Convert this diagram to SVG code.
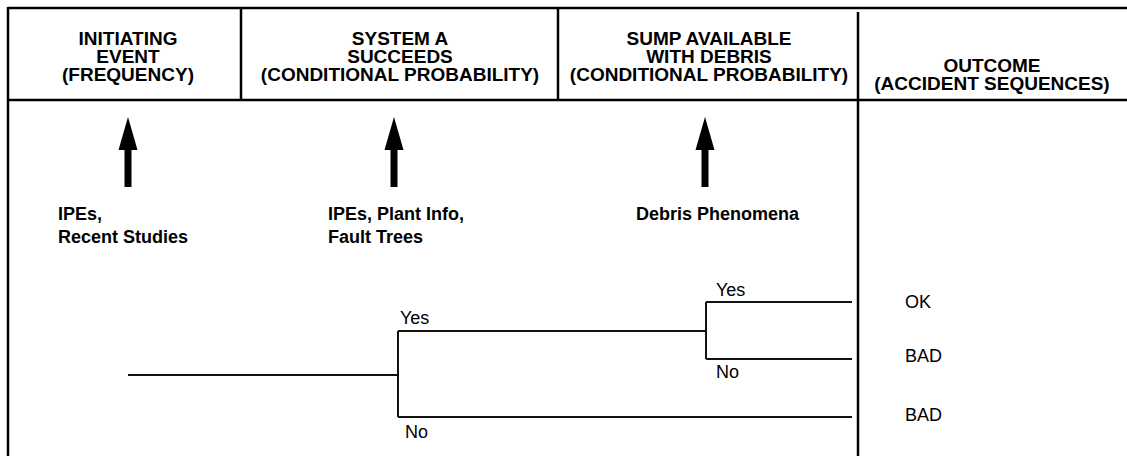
<svg xmlns="http://www.w3.org/2000/svg" width="1127" height="456" viewBox="0 0 1127 456">
  <defs>
    <style>
      .frame { stroke: #000; stroke-width: 2.5; fill: none; }
      .branch { stroke: #111; stroke-width: 2; fill: none; }
      .hdr { font-family: "Liberation Sans", Arial, sans-serif; font-size: 19px; font-weight: bold; text-anchor: middle; fill: #000; }
      .src { font-family: "Liberation Sans", Arial, sans-serif; font-size: 18px; font-weight: bold; fill: #000; }
      .lbl { font-family: "Liberation Sans", Arial, sans-serif; font-size: 18px; fill: #000; }
      .arrow { fill: #000; }
    </style>
  </defs>
  <rect width="1127" height="456" fill="#fff"/>

  <g id="frame">
    <line class="frame" x1="8" y1="8" x2="1127" y2="8"/>
    <line class="frame" x1="8" y1="7" x2="8" y2="456"/>
    <line class="frame" x1="8" y1="100" x2="1127" y2="100"/>
    <line class="frame" x1="241" y1="8" x2="241" y2="100"/>
    <line class="frame" x1="558" y1="8" x2="558" y2="100"/>
    <line class="frame" x1="858" y1="12" x2="858" y2="456"/>
  </g>

  <g id="header-initiating">
    <text class="hdr" x="128" y="45">INITIATING</text>
    <text class="hdr" x="128" y="63">EVENT</text>
    <text class="hdr" x="128" y="81">(FREQUENCY)</text>
  </g>
  <g id="header-systemA">
    <text class="hdr" x="400" y="45">SYSTEM A</text>
    <text class="hdr" x="400" y="63">SUCCEEDS</text>
    <text class="hdr" x="400" y="81">(CONDITIONAL PROBABILITY)</text>
  </g>
  <g id="header-sump">
    <text class="hdr" x="709" y="45">SUMP AVAILABLE</text>
    <text class="hdr" x="709" y="63">WITH DEBRIS</text>
    <text class="hdr" x="709" y="81">(CONDITIONAL PROBABILITY)</text>
  </g>
  <g id="header-outcome">
    <text class="hdr" x="992" y="72">OUTCOME</text>
    <text class="hdr" x="992" y="90">(ACCIDENT SEQUENCES)</text>
  </g>

  <g id="source-initiating">
    <polygon class="arrow" points="128,117 118.5,150 137.5,150"/>
    <rect class="arrow" x="124.5" y="148" width="7" height="39"/>
    <text class="src" x="58" y="220">IPEs,</text>
    <text class="src" x="58" y="243">Recent Studies</text>
  </g>
  <g id="source-systemA">
    <polygon class="arrow" points="394,117 384.5,150 403.5,150"/>
    <rect class="arrow" x="390.5" y="148" width="7" height="39"/>
    <text class="src" x="328" y="220">IPEs, Plant Info,</text>
    <text class="src" x="328" y="243">Fault Trees</text>
  </g>
  <g id="source-sump">
    <polygon class="arrow" points="705,117 695.5,150 714.5,150"/>
    <rect class="arrow" x="701.5" y="148" width="7" height="39"/>
    <text class="src" x="636" y="220">Debris Phenomena</text>
  </g>

  <g id="connectors">
    <path class="branch" d="M128,375 H398"/>
    <path class="branch" d="M398,331 V417"/>
    <path class="branch" d="M398,331 H706"/>
    <path class="branch" d="M398,417 H852"/>
    <path class="branch" d="M706,302 V359"/>
    <path class="branch" d="M706,302 H852"/>
    <path class="branch" d="M706,359 H852"/>
  </g>

  <g id="branch-labels">
    <text class="lbl" x="400" y="324">Yes</text>
    <text class="lbl" x="405" y="438">No</text>
    <text class="lbl" x="716" y="296">Yes</text>
    <text class="lbl" x="716" y="378">No</text>
  </g>

  <g id="outcomes">
    <text class="lbl" x="905" y="308">OK</text>
    <text class="lbl" x="905" y="362">BAD</text>
    <text class="lbl" x="905" y="421">BAD</text>
  </g>
</svg>
